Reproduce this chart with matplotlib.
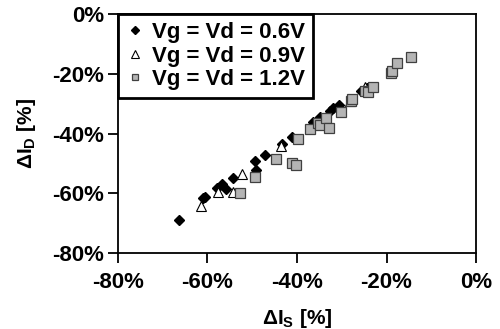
import matplotlib
matplotlib.use('Agg')
import matplotlib.pyplot as plt

plt.rcParams['font.family'] = ['Liberation Sans', 'DejaVu Sans']
plt.rcParams['font.weight'] = 'bold'
plt.rcParams['mathtext.fontset'] = 'custom'
plt.rcParams['mathtext.bf'] = 'Liberation Sans:bold'
plt.rcParams['mathtext.default'] = 'bf'

# Vg = Vd = 0.6V
is_06 = [-66.4, -60.6, -61.1, -57.9, -56.7, -55.9, -54.4, -49.4, -49.2, -47.2,
         -43.4, -41.1, -36.4, -34.9, -32.6, -31.9, -30.7, -25.7, -24.4]
id_06 = [-68.9, -61.1, -61.7, -58.3, -56.9, -58.6, -55.0, -49.2, -52.1, -47.2,
         -43.6, -41.1, -36.0, -34.3, -32.3, -31.5, -30.5, -25.6, -24.8]

# Vg = Vd = 0.9V
is_09 = [-61.4, -57.6, -54.3, -52.3, -43.6, -28.2, -24.8]
id_09 = [-64.4, -59.7, -59.7, -53.5, -44.3, -29.0, -24.5]

# Vg = Vd = 1.2V
is_12 = [-52.8, -49.4, -44.8, -41.2, -40.2, -39.7, -37.1, -35.3, -34.9, -33.6,
         -32.8, -30.2, -28.0, -27.6, -24.7, -24.2, -23.1, -19.0, -18.7, -17.7, -14.6]
id_12 = [-59.9, -54.6, -48.6, -49.7, -50.6, -41.9, -38.4, -36.3, -37.1, -34.9,
         -38.2, -32.8, -29.1, -28.4, -25.6, -26.1, -24.4, -19.6, -19.2, -16.5, -14.5]

labels = ['Vg = Vd = 0.6V', 'Vg = Vd = 0.9V', 'Vg = Vd = 1.2V']
ticks = [-80, -60, -40, -20, 0]

fig = plt.figure(figsize=(5, 3.29), dpi=100)
ax = fig.add_axes([0.236, 0.231, 0.716, 0.726])

ax.plot(is_06, id_06, 'D', ms=5.2, mfc='black', mec='black', label=labels[0])
ax.plot(is_09, id_09, '^', ms=7, mfc='white', mec='black', mew=0.8, label=labels[1])
ax.plot(is_12, id_12, 's', ms=6.5, mfc='#b4b4b4', mec='#404040', mew=0.9, label=labels[2])

ax.set_xlim(-80, 0)
ax.set_ylim(-80, 0)
ax.set_xticks(ticks)
ax.set_yticks(ticks)
ax.set_xticklabels(['%d%%' % t for t in ticks], fontsize=16, fontweight='bold')
ax.set_yticklabels(['%d%%' % t for t in ticks], fontsize=16, fontweight='bold')
ax.tick_params(direction='out', length=7, width=1.3, pad=3)
ax.tick_params(axis='x', pad=7)
for s in ax.spines.values():
    s.set_linewidth(1.3)

ax.set_xlabel('ΔI$_{S}$ [%]', fontsize=15, fontweight='bold', labelpad=10)
ax.set_ylabel('ΔI$_{D}$ [%]', fontsize=15, fontweight='bold', labelpad=10)

leg = ax.legend(loc='upper left', bbox_to_anchor=(0, 1), borderaxespad=0,
                fancybox=False, shadow=False, frameon=True, markerscale=0.75,
                handlelength=0.8, handletextpad=0.4, labelspacing=0.12,
                borderpad=0.35, prop={'size': 16, 'weight': 'bold'})
leg.get_frame().set_edgecolor('black')
leg.get_frame().set_linewidth(2)
leg.get_frame().set_alpha(1)

fig.savefig('out.png', dpi=100)
